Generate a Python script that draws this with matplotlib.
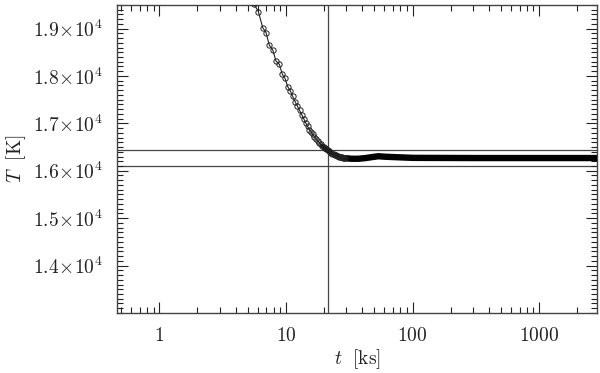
import numpy as np
import matplotlib
matplotlib.use("Agg")
import matplotlib.pyplot as plt
from matplotlib.ticker import FixedLocator, MultipleLocator, LogLocator, NullFormatter

plt.rcParams['mathtext.fontset'] = 'cm'
plt.rcParams['font.family'] = ['DejaVu Serif']

# individually resolved samples (time in ks, temperature in K)
t_samples = [5.10, 5.59, 6.05, 6.55, 6.96, 7.39, 7.86, 8.34, 8.86, 9.36, 9.83, 10.32,
             10.8, 11.3, 11.8, 12.3, 12.8, 13.3, 13.8, 14.3, 14.8, 15.3, 15.8, 16.3,
             16.8, 17.3, 17.8, 18.3, 18.8, 19.3, 19.8, 20.3, 20.8, 21.3, 21.8, 22.3,
             22.8, 23.3, 23.8, 24.3, 24.8, 25.3, 25.8, 26.3, 26.8, 27.3, 27.8, 28.3,
             28.8, 29.3]
T_samples = [19900, 19513, 19359, 19021, 18915, 18647, 18548, 18315, 18246, 18034, 17950, 17775,
             17690, 17570, 17460, 17365, 17275, 17185, 17100, 17015, 16935, 16870, 16820, 16765,
             16715, 16670, 16630, 16590, 16555, 16525, 16500, 16475, 16450, 16432, 16415, 16398,
             16380, 16363, 16348, 16335, 16325, 16315, 16308, 16300, 16293, 16287, 16281, 16276,
             16271, 16266]

# dense late-time track (markers overlap into a thick band)
t_plateau = [29.3, 33.0, 37.2, 42.1, 47.5, 53.6, 60.5, 68.4, 100, 300, 1000, 2860]
T_plateau = [16266, 16253, 16253, 16266, 16287, 16306, 16296, 16290, 16272, 16268, 16268, 16268]

# reference markers
t_cross = 21.3
T_upper = 16440
T_lower = 16100

y_ticks = [14000, 15000, 16000, 17000, 18000, 19000]
y_ticklabels = [r'$1.4\!\times\!10^4$', r'$1.5\!\times\!10^4$', r'$1.6\!\times\!10^4$',
                r'$1.7\!\times\!10^4$', r'$1.8\!\times\!10^4$', r'$1.9\!\times\!10^4$']
x_ticks = [1, 10, 100, 1000]
x_ticklabels = [r'$1$', r'$10$', r'$100$', r'$1000$']

fig = plt.figure(figsize=(6.0, 3.73), dpi=100)
ax = fig.add_axes([0.195, 0.161, 0.800, 0.826])

ink = '#222222'
ax.axvline(t_cross, color='#444444', lw=0.9, zorder=1)
ax.axhline(T_upper, color='#444444', lw=0.9, zorder=1)
ax.axhline(T_lower, color='#444444', lw=0.9, zorder=1)

ax.plot(t_plateau, T_plateau, '-', color='black', lw=4.6, solid_capstyle='butt', zorder=3)
dense = [i for i, t in enumerate(t_samples) if t >= 19.0]
ax.plot([t_samples[i] for i in dense], [T_samples[i] for i in dense], '-',
        color='black', lw=3.0, solid_capstyle='round', zorder=3)
ax.plot(t_samples, T_samples, '-', color=ink, lw=0.8, marker='o', ms=3.8,
        mfc='none', mec=ink, mew=0.7, zorder=4)

ax.set_xscale('log')
ax.set_xlim(0.463, 2860)
ax.set_ylim(13000, 19500)

ax.xaxis.set_major_locator(FixedLocator(x_ticks))
ax.set_xticklabels(x_ticklabels)
ax.xaxis.set_minor_locator(LogLocator(base=10, subs=np.arange(2, 10)))
ax.xaxis.set_minor_formatter(NullFormatter())
ax.yaxis.set_major_locator(FixedLocator(y_ticks))
ax.set_yticklabels(y_ticklabels)
ax.yaxis.set_minor_locator(MultipleLocator(100))

ax.tick_params(which='both', direction='in', top=True, right=True, colors=ink,
               labelcolor=ink, labelsize=14, width=0.8)
ax.tick_params(which='major', length=8, pad=10)
ax.tick_params(which='minor', length=4)
for s in ax.spines.values():
    s.set_color('#444444')
    s.set_linewidth(1.0)

ax.set_xlabel(r'$t\ \ \mathrm{[ks]}$', fontsize=14, color=ink, labelpad=2)
ax.set_ylabel(r'$T\ \ \mathrm{[K]}$', fontsize=14, color=ink, labelpad=4)

fig.savefig('out.png', dpi=100)
